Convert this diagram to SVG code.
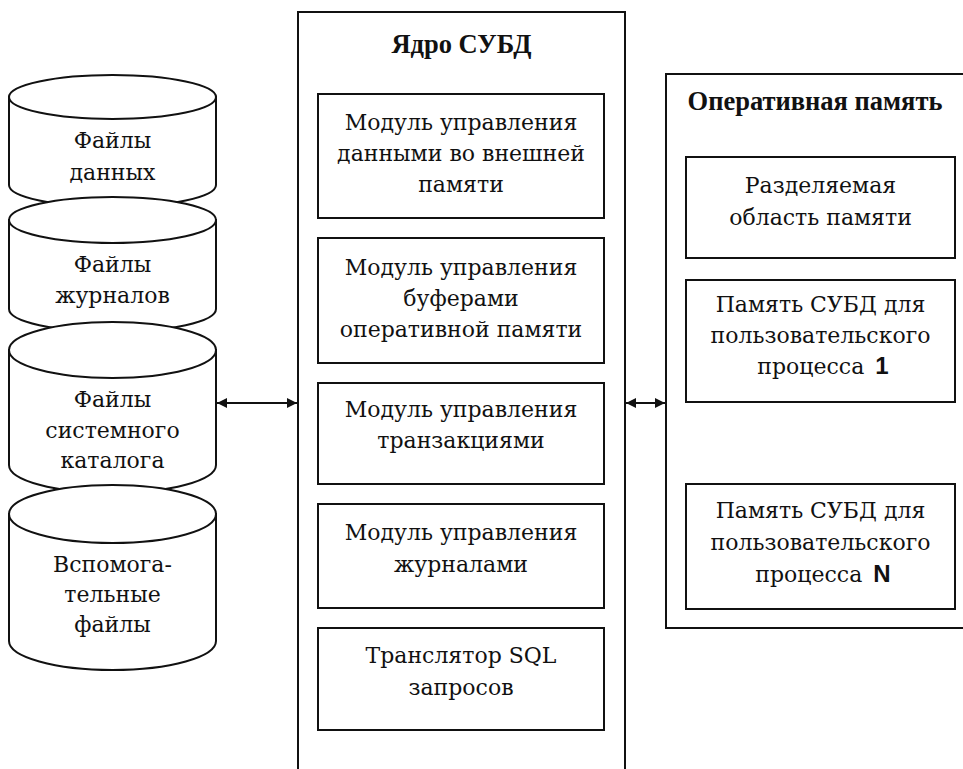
<svg xmlns="http://www.w3.org/2000/svg" width="963" height="769" viewBox="0 0 963 769">
<defs>
<style>
.b{fill:#fff;stroke:#111;stroke-width:2}
.t{font-family:"DejaVu Serif","Liberation Serif",serif;font-size:22px;fill:#111;text-anchor:middle}
.h{font-family:"Liberation Serif","Times New Roman",serif;font-size:26.5px;font-weight:bold;fill:#111;text-anchor:middle}
.n{font-family:"Liberation Sans",Arial,sans-serif;font-weight:bold;font-size:24px}
.c{stroke:#111;stroke-width:2;fill:none}
</style>
<marker id="ah" viewBox="0 0 10 10" refX="10" refY="5" markerWidth="10" markerHeight="10" markerUnits="userSpaceOnUse" orient="auto-start-reverse">
<path d="M0,0 L10,5 L0,10 Z" fill="#111"/>
</marker>
</defs>
<rect width="963" height="769" fill="#fff"/>

<g id="cyl-data">
<path class="b" d="M9,97 L9,185 A103.5,22 0 0 0 216,185 L216,97 Z"/>
<ellipse class="b" cx="112.5" cy="97" rx="103.5" ry="22"/>
<text class="t" x="112.5" y="148">Файлы</text>
<text class="t" x="112.5" y="180">данных</text>
</g>
<g id="cyl-logs">
<path class="b" d="M9,220 L9,309 A103.5,23 0 0 0 216,309 L216,220 Z"/>
<ellipse class="b" cx="112.5" cy="220" rx="103.5" ry="23"/>
<text class="t" x="112.5" y="272">Файлы</text>
<text class="t" x="112.5" y="303">журналов</text>
</g>
<g id="cyl-catalog">
<path class="b" d="M9,350 L9,465 A103.5,28 0 0 0 216,465 L216,350 Z"/>
<ellipse class="b" cx="112.5" cy="350" rx="103.5" ry="28"/>
<text class="t" x="112.5" y="407">Файлы</text>
<text class="t" x="112.5" y="438">системного</text>
<text class="t" x="112.5" y="468">каталога</text>
</g>
<g id="cyl-aux">
<path class="b" d="M9,514 L9,641 A103.5,29 0 0 0 216,641 L216,514 Z"/>
<ellipse class="b" cx="112.5" cy="514" rx="103.5" ry="29"/>
<text class="t" x="112.5" y="572">Вспомога-</text>
<text class="t" x="112.5" y="602">тельные</text>
<text class="t" x="112.5" y="632">файлы</text>
</g>

<g id="core">
<rect class="b" x="298" y="12" width="327" height="780"/>
<text class="h" x="461.5" y="53">Ядро СУБД</text>
</g>
<g id="mod-ext">
<rect class="b" x="318" y="94" width="286" height="124"/>
<text class="t" x="461" y="130">Модуль управления</text>
<text class="t" x="461" y="161">данными во внешней</text>
<text class="t" x="461" y="192">памяти</text>
</g>
<g id="mod-buf">
<rect class="b" x="318" y="238" width="286" height="125"/>
<text class="t" x="461" y="275">Модуль управления</text>
<text class="t" x="461" y="306">буферами</text>
<text class="t" x="461" y="337">оперативной памяти</text>
</g>
<g id="mod-tx">
<rect class="b" x="318" y="383" width="286" height="101"/>
<text class="t" x="461" y="417">Модуль управления</text>
<text class="t" x="461" y="448">транзакциями</text>
</g>
<g id="mod-log">
<rect class="b" x="318" y="504" width="286" height="104"/>
<text class="t" x="461" y="540">Модуль управления</text>
<text class="t" x="461" y="572">журналами</text>
</g>
<g id="sql">
<rect class="b" x="318" y="628" width="286" height="102"/>
<text class="t" x="461" y="663">Транслятор SQL</text>
<text class="t" x="461" y="695">запросов</text>
</g>

<g id="ram">
<rect class="b" x="666" y="74" width="320" height="554"/>
<text class="h" x="815" y="110">Оперативная память</text>
</g>
<g id="shared">
<rect class="b" x="686" y="157" width="269" height="101"/>
<text class="t" x="820.5" y="193">Разделяемая</text>
<text class="t" x="820.5" y="225">область памяти</text>
</g>
<g id="proc1">
<rect class="b" x="686" y="280" width="269" height="122"/>
<text class="t" x="820.5" y="312">Память СУБД для</text>
<text class="t" x="820.5" y="343">пользовательского</text>
<text class="t" x="823" y="374">процесса <tspan class="n" dx="4">1</tspan></text>
</g>
<g id="procN">
<rect class="b" x="686" y="484" width="269" height="125"/>
<text class="t" x="820.5" y="518">Память СУБД для</text>
<text class="t" x="820.5" y="550">пользовательского</text>
<text class="t" x="823" y="582">процесса <tspan class="n" dx="4">N</tspan></text>
</g>

<g id="connectors">
<line class="c" x1="217" y1="403" x2="297" y2="403" marker-start="url(#ah)" marker-end="url(#ah)"/>
<line class="c" x1="626" y1="403" x2="665" y2="403" marker-start="url(#ah)" marker-end="url(#ah)"/>
</g>
</svg>
